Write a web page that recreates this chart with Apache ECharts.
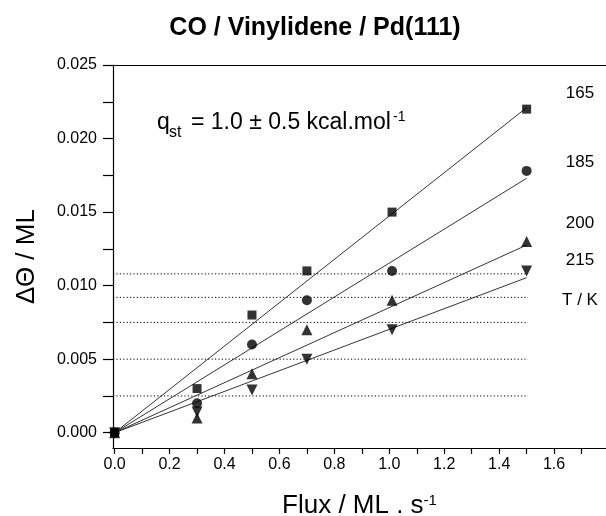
<!DOCTYPE html>
<html>
<head>
<meta charset="utf-8">
<script src="https://cdn.jsdelivr.net/npm/echarts@6/dist/echarts.min.js"></script>
<style>
html,body{margin:0;padding:0;background:#fff;}
#chart{width:606px;height:516px;}
</style>
</head>
<body>
<div id="chart"></div>
<script>
// ---- data ----
var flux = [0, 0.3, 0.5, 0.7, 1.01, 1.5];
var t165 = [0, 0.003, 0.008, 0.011, 0.015, 0.022];
var t185 = [0, 0.002, 0.006, 0.009, 0.011, 0.0178];
var t200 = [0, 0.001, 0.004, 0.007, 0.009, 0.013];
var t215 = [0, 0.0014, 0.0029, 0.005, 0.007, 0.011];
var fitX = [0, 1.5];
var fit165 = [0, 0.0221];
var fit185 = [0, 0.0173];
var fit200 = [0, 0.01276];
var fit215 = [0, 0.01054];
var refLevels = [0.0025, 0.005, 0.0075, 0.0092, 0.0108];
var refX = [-0.006, 1.505];
var tempLabels = ['165', '185', '200', '215', 'T / K'];
var xTickVals = [0, 0.1, 0.2, 0.3, 0.4, 0.5, 0.6, 0.7, 0.8, 0.9, 1.0, 1.1, 1.2, 1.3, 1.4, 1.5, 1.6, 1.7];
var xLabelVals = [0, 0.2, 0.4, 0.6, 0.8, 1.0, 1.2, 1.4, 1.6];
var yTickVals = [0, 0.0025, 0.005, 0.0075, 0.01, 0.0125, 0.015, 0.0175, 0.02, 0.0225, 0.025];
var yLabelVals = [0, 0.005, 0.01, 0.015, 0.02, 0.025];

var FONT = '"Liberation Sans", Arial, sans-serif';

function pts(xs, ys) { return xs.map(function (x, i) { return [x, ys[i]]; }); }

var series = [];
refLevels.forEach(function (v) {
  series.push({
    type: 'line', data: [[refX[0], v], [refX[1], v]], symbol: 'none', silent: true,
    lineStyle: { color: '#000', width: 1, type: [1.2, 2.2] }, z: 1
  });
});
[fit165, fit185, fit200, fit215].forEach(function (f) {
  series.push({
    type: 'line', data: pts(fitX, f), symbol: 'none', silent: true,
    lineStyle: { color: '#000', width: 0.8 }, z: 2
  });
});
var sets = [
  { d: t165, s: 'rect', size: 9, rot: 0 },
  { d: t185, s: 'circle', size: 10, rot: 0 },
  { d: t200, s: 'triangle', size: 11, rot: 0 },
  { d: t215, s: 'triangle', size: 11, rot: 180 }
];
sets.forEach(function (o) {
  series.push({
    type: 'scatter', data: pts(flux, o.d), symbol: o.s, symbolSize: o.size, symbolRotate: o.rot,
    itemStyle: { color: '#000' }, z: 3
  });
});

var tempY = [93, 162, 223, 260, 300];
var graphics = tempLabels.map(function (t, i) {
  return { type: 'text', x: 580, y: tempY[i],
    style: { text: t, font: '17px ' + FONT, fill: '#000', align: 'center', verticalAlign: 'middle' } };
});
graphics.push(
  { type: 'text', x: 157, y: 123, style: { text: 'q', font: '23px ' + FONT, fill: '#000', align: 'left', verticalAlign: 'middle' } },
  { type: 'text', x: 169, y: 133, style: { text: 'st', font: '16px ' + FONT, fill: '#000', align: 'left', verticalAlign: 'middle' } },
  { type: 'text', x: 191, y: 123, style: { text: '= 1.0 \u00B1 0.5 kcal.mol', font: '23px ' + FONT, fill: '#000', align: 'left', verticalAlign: 'middle' } },
  { type: 'text', x: 393, y: 117, style: { text: '-1', font: '14px ' + FONT, fill: '#000', align: 'left', verticalAlign: 'middle' } }
);

var chart = echarts.init(document.getElementById('chart'), null, { renderer: 'canvas' });
chart.setOption({
  backgroundColor: '#fff',
  animation: false,
  title: {
    text: 'CO / Vinylidene / Pd(111)', left: 310, top: 11, textAlign: 'center',
    textStyle: { fontFamily: FONT, fontSize: 25, fontWeight: 'bold', color: '#000' }
  },
  grid: { left: 113, right: 0, top: 65, bottom: 68, containLabel: false, outerBoundsMode: 'none' },
  xAxis: [{
    type: 'value', min: -0.006, max: 1.789, position: 'bottom',
    name: '{a|Flux / ML . s}{b|-1}', nameLocation: 'middle', nameGap: 45,
    nameTextStyle: {
      fontFamily: FONT, color: '#000',
      rich: { a: { fontSize: 26, fontFamily: FONT, color: '#000' },
              b: { fontSize: 15, fontFamily: FONT, color: '#000', verticalAlign: 'top' } }
    },
    splitLine: { show: false },
    axisLine: { show: true, onZero: false, lineStyle: { color: '#000', width: 1.2 } },
    axisTick: { show: true, customValues: xTickVals, length: 6, inside: false, lineStyle: { color: '#000', width: 1.2 } },
    axisLabel: { customValues: xLabelVals, margin: 9, fontSize: 16, fontFamily: FONT, color: '#000',
      formatter: function (v) { return v.toFixed(1); } }
  }, {
    type: 'value', min: -0.006, max: 1.789, position: 'top',
    splitLine: { show: false },
    axisLine: { show: true, onZero: false, lineStyle: { color: '#000', width: 1.2 } },
    axisTick: { show: false }, axisLabel: { show: false }
  }],
  yAxis: {
    type: 'value', min: -0.00104, max: 0.025,
    name: '\u0394\u0398 / ML', nameLocation: 'middle', nameGap: 73, nameRotate: 90,
    nameTextStyle: { fontFamily: FONT, fontSize: 26, color: '#000' },
    splitLine: { show: false },
    axisLine: { show: true, onZero: false, lineStyle: { color: '#000', width: 1.2 } },
    axisTick: { show: true, customValues: yTickVals, length: 10, inside: false, lineStyle: { color: '#000', width: 1.2 } },
    axisLabel: { customValues: yLabelVals, margin: 16, fontSize: 16, fontFamily: FONT, color: '#000',
      formatter: function (v) { return v.toFixed(3); } }
  },
  graphic: graphics,
  series: series
});
</script>
</body>
</html>
